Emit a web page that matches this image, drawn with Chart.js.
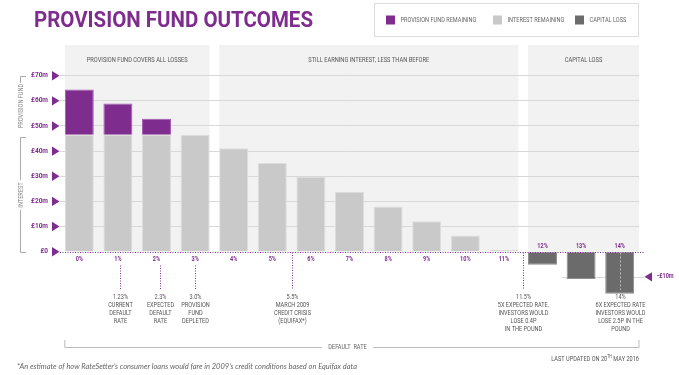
<!DOCTYPE html>
<html>
<head>
<meta charset="utf-8">
<script src="https://cdn.jsdelivr.net/npm/chart.js@4.4.1/dist/chart.umd.min.js"></script>
<style>
  html, body { margin: 0; padding: 0; background: #fff; }
  #chart { display: block; }
</style>
</head>
<body>
<canvas id="chart" width="679" height="375"></canvas>
<script>
// Provision fund outcomes - stacked bars per default rate

const rateLabels = ['0%', '1%', '2%', '3%', '4%', '5%', '6%', '7%', '8%', '9%', '10%', '11%', '12%', '13%', '14%'];
const interestRemaining = [46.5, 46.5, 46.5, 46.5, 41.1, 35.3, 29.7, 23.7, 18.0, 12.1, 6.4, 0.7, null, null, null];
const provisionRemaining = [18.0, 12.4, 6.4, null, null, null, null, null, null, null, null, null, null, null, null];
const capitalLoss = [null, null, null, null, null, null, null, null, null, null, null, null, -5.2, -10.9, -16.7];

const bandTitles = ['PROVISION FUND COVERS ALL LOSSES', 'STILL EARNING INTEREST, LESS THAN BEFORE', 'CAPITAL LOSS'];
const bandFrom = [-0.375, 3.625, 11.625];
const bandTo = [3.375, 11.375, 14.5];

const noteAt = [1.05, 2.1, 3, 5.5, 11.5, 14];
const noteLines = [
    ['1.23%', 'CURRENT', 'DEFAULT', 'RATE'],
    ['2.3%', 'EXPECTED', 'DEFAULT', 'RATE'],
    ['3.0%', 'PROVISION', 'FUND', 'DEPLETED'],
    ['5.5%', 'MARCH 2009', 'CREDIT CRISIS', '(EQUIFAX*)'],
    ['11.5%', '5X EXPECTED RATE.', 'INVESTORS WOULD', 'LOSE 0.4P', 'IN THE POUND'],
    ['14%', '6X EXPECTED RATE', 'INVESTORS WOULD', 'LOSE 2.5P IN THE', 'POUND']
];

const PURPLE = '#7f2c8f';
const FONT = 'Roboto';

// condensed text, the original uses a narrow DIN face
function cond(ctx, s, x, y, size, color, align, weight, squeeze) {
    const sq = squeeze || 0.8;
    ctx.font = (weight || 'normal') + ' ' + size + 'px ' + FONT;
    ctx.fillStyle = color;
    ctx.textAlign = align || 'left';
    ctx.textBaseline = 'middle';
    const w = ctx.measureText(s).width;
    ctx.fillText(s, x, y, w * sq);
    return w * sq;
}

function tri(ctx, x1, x2, y, h) {
    ctx.beginPath();
    ctx.moveTo(x1, y - h);
    ctx.lineTo(x1, y + h);
    ctx.lineTo(x2, y);
    ctx.closePath();
    ctx.fill();
}

const decor = {
    id: 'decor',
    beforeDraw(chart) {
        const { ctx } = chart;
        const x = chart.scales.x, y = chart.scales.y;
        const zero = y.getPixelForValue(0);
        ctx.save();
        ctx.fillStyle = '#fff';
        ctx.fillRect(0, 0, chart.width, chart.height);
        bandTitles.forEach((t, i) => {
            const l = x.getPixelForValue(bandFrom[i]);
            const r = x.getPixelForValue(bandTo[i]);
            ctx.fillStyle = '#f2f2f2';
            ctx.fillRect(l, 45, r - l, zero - 45);
            cond(ctx, t, (l + r) / 2, 60, 6.8, '#555', 'center', 'normal', 0.84);
        });
        ctx.restore();
    },
    beforeDatasetsDraw(chart) {
        const { ctx } = chart;
        const x = chart.scales.x, y = chart.scales.y;
        const ym = Math.round(y.getPixelForValue(-10)) + 0.5;
        ctx.save();
        ctx.strokeStyle = '#d8d8d8';
        ctx.lineWidth = 1;
        ctx.beginPath();
        ctx.moveTo(x.getPixelForValue(12.5), ym);
        ctx.lineTo(644, ym);
        ctx.stroke();
        ctx.restore();
    },
    afterDraw(chart) {
        const { ctx } = chart;
        const x = chart.scales.x, y = chart.scales.y;
        const zero = Math.round(y.getPixelForValue(0)) + 0.5;
        ctx.save();

        // zero line
        ctx.strokeStyle = PURPLE;
        ctx.lineWidth = 1;
        ctx.setLineDash([1, 1.5]);
        ctx.beginPath();
        ctx.moveTo(60, zero);
        ctx.lineTo(644, zero);
        ctx.stroke();
        ctx.setLineDash([]);

        // category labels
        rateLabels.forEach((lab, i) => {
            const px = x.getPixelForValue(i);
            const below = capitalLoss[i] === null;
            cond(ctx, lab, px, below ? zero + 7 : zero - 6.5, 6.5, PURPLE, 'center', 'bold', 0.85);
        });

        // y arrows
        ctx.fillStyle = PURPLE;
        y.ticks.forEach(t => {
            if (t.value >= 0) tri(ctx, 52, 59.5, y.getPixelForValue(t.value), 4.7);
        });
        const ym = y.getPixelForValue(-10);
        ctx.fillStyle = PURPLE;
        tri(ctx, 652, 644.5, ym, 4.7);
        cond(ctx, '-£10m', 657, ym, 6.5, PURPLE, 'left', 'bold', 0.85);

        // annotations
        noteAt.forEach((v, i) => {
            const px = Math.round(x.getPixelForValue(v)) + 0.5;
            const idx = Math.round(v);
            const onLabel = Math.abs(v - idx) < 0.2 && capitalLoss[idx] === null;
            const inBar = Math.abs(v - idx) < 0.2 && capitalLoss[idx] !== null;
            ctx.strokeStyle = inBar ? '#bdbdbd' : PURPLE;
            ctx.setLineDash(inBar ? [2, 2] : [1, 1.5]);
            ctx.beginPath();
            ctx.moveTo(px, onLabel ? zero + 13 : zero);
            ctx.lineTo(px, 290);
            ctx.stroke();
            ctx.setLineDash([]);
            noteLines[i].forEach((s, k) => cond(ctx, s, px, 297 + k * 8, 7, '#555', 'center'));
        });

        // left bracket
        ctx.strokeStyle = '#aaa';
        ctx.lineWidth = 1;
        const y70 = Math.round(y.getPixelForValue(70)) + 0.5;
        const ySplit = Math.round(y.getPixelForValue(45.6)) + 0.5;
        ctx.beginPath();
        ctx.moveTo(26, y70); ctx.lineTo(20.5, y70); ctx.lineTo(20.5, 83);
        ctx.moveTo(26, ySplit); ctx.lineTo(20.5, ySplit); ctx.lineTo(20.5, 180);
        ctx.moveTo(20.5, 210); ctx.lineTo(20.5, zero); ctx.lineTo(26, zero);
        ctx.stroke();
        ctx.save();
        ctx.translate(21, 106);
        ctx.rotate(-Math.PI / 2);
        cond(ctx, 'PROVISION FUND', 0, 0, 7, '#888', 'center');
        ctx.restore();
        ctx.save();
        ctx.translate(21, 195);
        ctx.rotate(-Math.PI / 2);
        cond(ctx, 'INTEREST', 0, 0, 7, '#888', 'center');
        ctx.restore();

        // legend
        ctx.strokeStyle = '#dcdcdc';
        ctx.strokeRect(374.5, 3.5, 264, 33);
        const ds = chart.data.datasets;
        const order = [1, 0, 2];
        const lx = [386, 493, 575];
        order.forEach((d, k) => {
            ctx.fillStyle = ds[d].backgroundColor;
            ctx.fillRect(lx[k], 15.5, 9, 9);
            cond(ctx, ds[d].label, lx[k] + 14.5, 20.5, 7, '#666', 'left');
        });

        // title
        ctx.font = 'bold 22.5px ' + FONT;
        ctx.fillStyle = PURPLE;
        ctx.textAlign = 'left';
        ctx.textBaseline = 'alphabetic';
        ctx.fillText('PROVISION FUND OUTCOMES', 34, 27, 279);

        // default rate bracket
        const bl = x.getPixelForValue(-0.375);
        const by = 347.5;
        ctx.strokeStyle = '#bbb';
        ctx.beginPath();
        ctx.moveTo(bl, 340); ctx.lineTo(bl, by); ctx.lineTo(322, by);
        ctx.moveTo(373, by); ctx.lineTo(639, by); ctx.lineTo(639, 340);
        ctx.stroke();
        cond(ctx, 'DEFAULT  RATE', 347.5, by, 7, '#666', 'center');

        // last updated (right aligned, with superscript)
        let rx = 639;
        rx -= cond(ctx, ' MAY 2016', rx, 359, 7, '#555', 'right');
        rx -= cond(ctx, 'TH', rx, 356.5, 4.5, '#555', 'right');
        cond(ctx, 'LAST UPDATED ON 20', rx, 359, 7, '#555', 'right');

        // footnote
        ctx.font = 'italic 7.5px Lato';
        ctx.fillStyle = '#666';
        ctx.textAlign = 'left';
        ctx.textBaseline = 'middle';
        ctx.fillText('*An estimate of how RateSetter’s consumer loans would fare in 2009’s credit conditions based on Equifax data', 17, 367, 340);

        ctx.restore();
    }
};

const ctx = document.getElementById('chart');
new Chart(ctx, {
    type: 'bar',
    data: {
        labels: rateLabels,
        datasets: [
            { label: 'INTEREST REMAINING', data: interestRemaining, backgroundColor: '#c9c9c9', borderColor: '#dddddd', borderWidth: 1 },
            { label: 'PROVISION FUND REMAINING', data: provisionRemaining, backgroundColor: PURPLE, borderColor: '#a15ab0', borderWidth: 1 },
            { label: 'CAPITAL LOSS', data: capitalLoss, backgroundColor: '#6b6b6b', borderColor: '#8c8c8c', borderWidth: 1 }
        ]
    },
    options: {
        responsive: false,
        animation: false,
        layout: { padding: { top: 75.7, right: 40, bottom: 73, left: 0 } },
        datasets: { bar: { categoryPercentage: 1, barPercentage: 0.75 } },
        plugins: {
            legend: { display: false },
            tooltip: { enabled: false }
        },
        scales: {
            x: { stacked: true, display: false, offset: true, grid: { display: false } },
            y: {
                stacked: true,
                min: -20,
                max: 70,
                afterFit: s => { s.width = 60; },
                border: { display: false },
                grid: {
                    drawTicks: false,
                    color: c => c.tick.value > 0 ? '#d8d8d8' : 'rgba(0,0,0,0)'
                },
                ticks: {
                    stepSize: 10,
                    padding: 12,
                    color: PURPLE,
                    font: { family: FONT, weight: 'bold', size: 6.5 },
                    callback: v => v < 0 ? '' : (v === 0 ? '£0' : '£' + v + 'm')
                }
            }
        }
    },
    plugins: [decor]
});
</script>
</body>
</html>
